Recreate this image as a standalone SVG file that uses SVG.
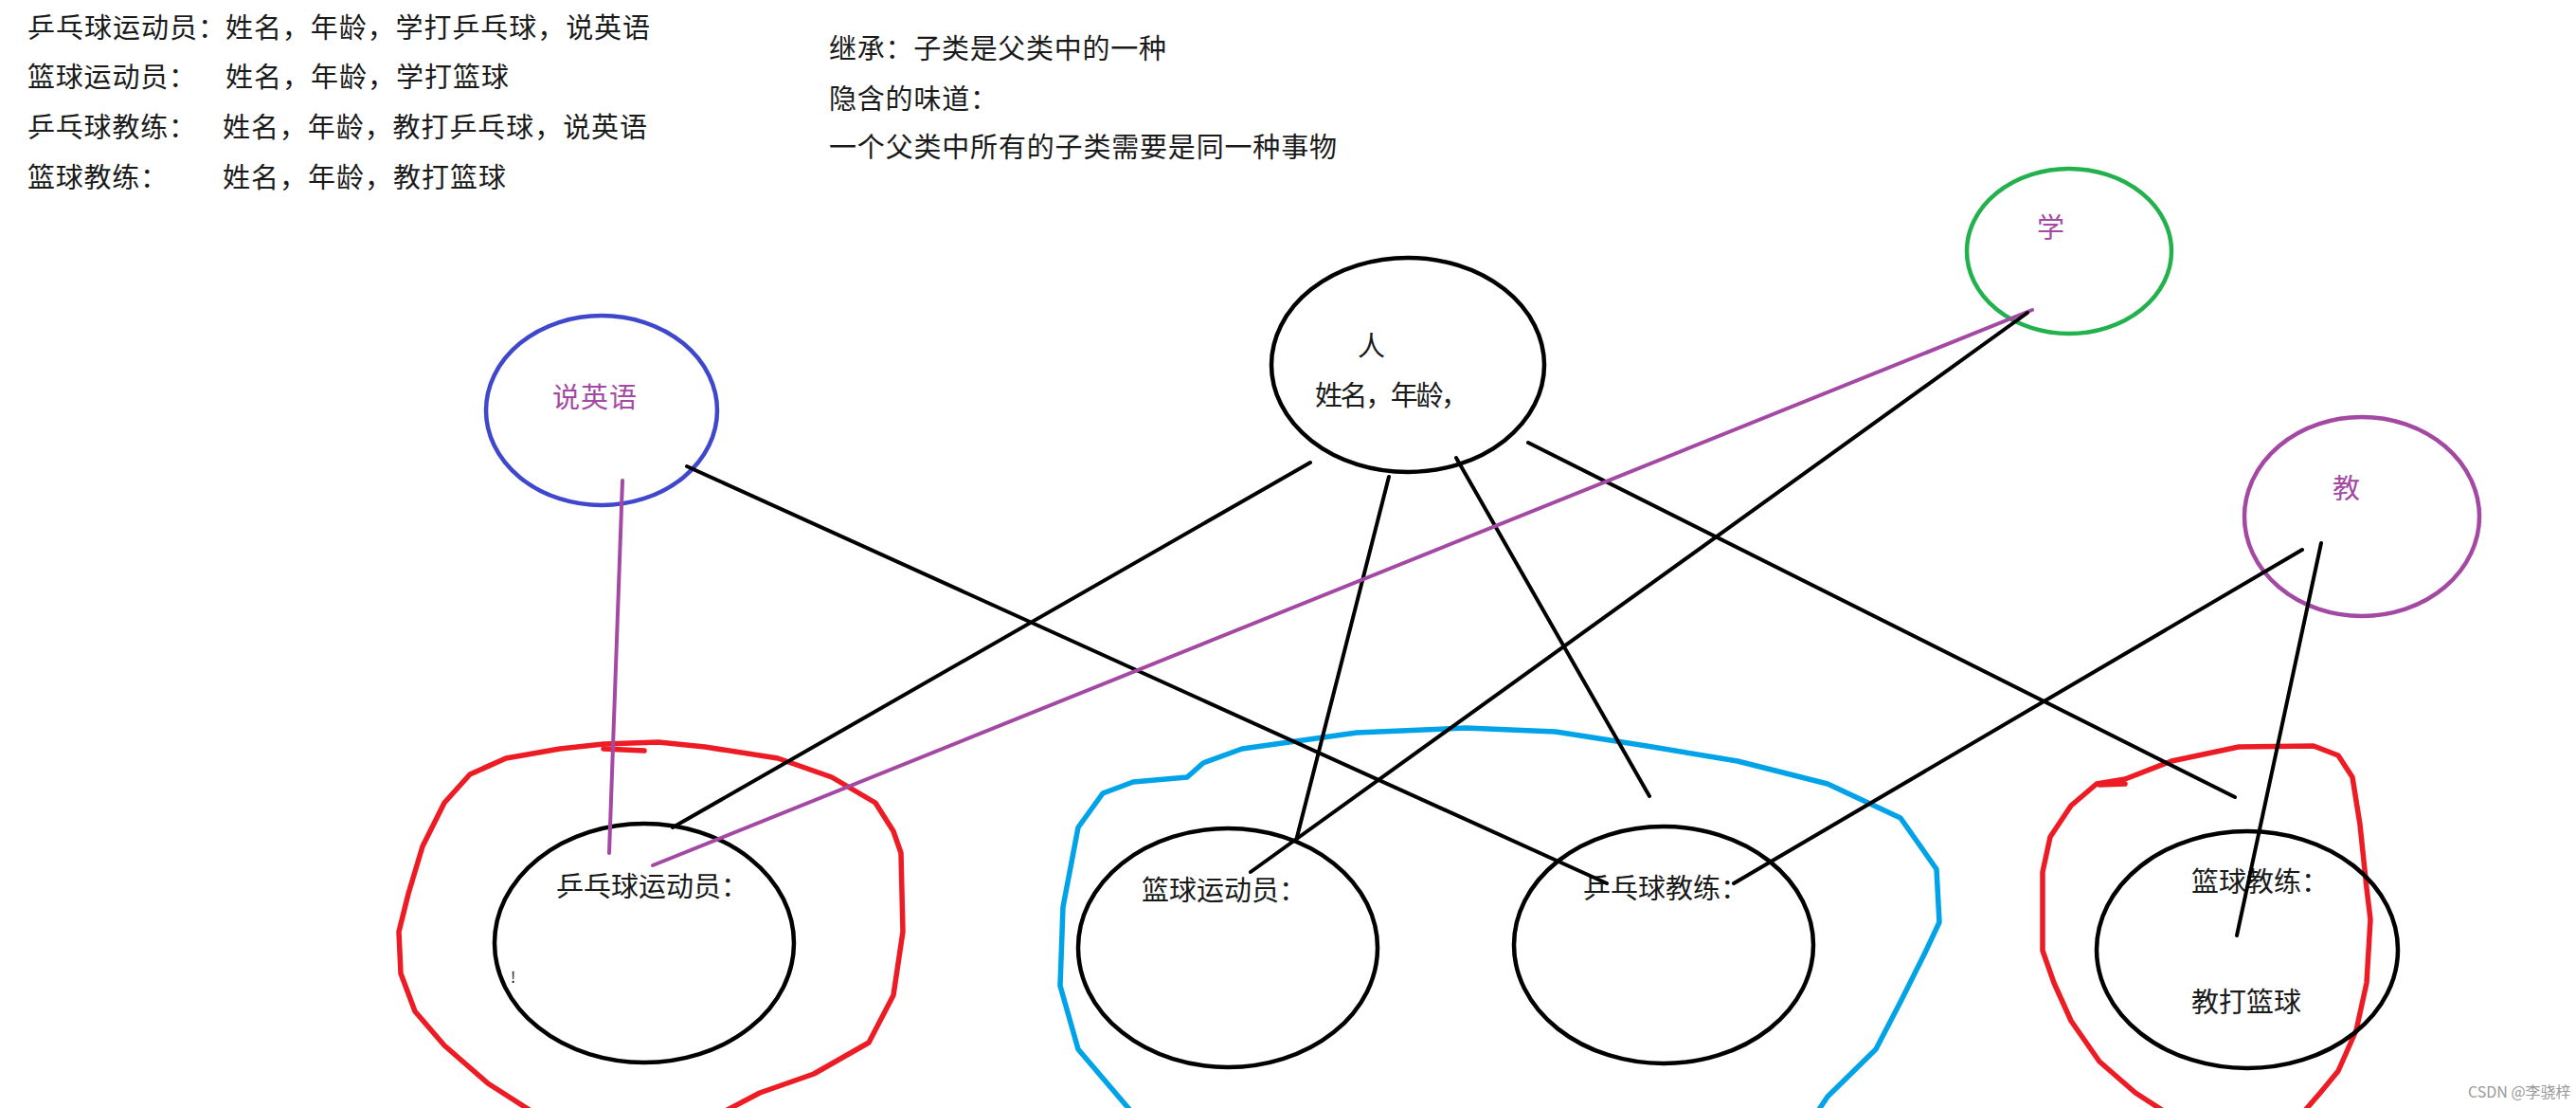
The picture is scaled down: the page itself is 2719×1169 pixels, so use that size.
<svg xmlns="http://www.w3.org/2000/svg" width="2719" height="1169" viewBox="0 0 2719 1169">
<style>
text{font-family:"Noto Sans CJK SC","Liberation Sans",sans-serif;fill:#1a1a1a}
.t{font-size:29px}
.n{font-size:29px}
.p{fill:#a349a4;font-size:29px}
.node{fill:none;stroke:#000;stroke-width:4.5}
.blue{stroke:#3f48cc}
.green{stroke:#22b14c}
.purple{stroke:#a349a4}
.ln{stroke:#000;stroke-width:4;stroke-linecap:round}
.pl{stroke:#a349a4;stroke-width:4;stroke-linecap:round}
.blob{fill:none;stroke-width:5.5;stroke-linejoin:round;stroke-linecap:round}
.red{stroke:#ed1c24}
.cyan{stroke:#00a2e8}
</style>
<rect width="2719" height="1169" fill="#fff"/>
<g id="notes">
<text class="t" x="29" y="40" textLength="209" lengthAdjust="spacing">乒乓球运动员：</text>
<text class="t" x="238" y="40" textLength="448" lengthAdjust="spacing">姓名，年龄，学打乒乓球，说英语</text>
<text class="t" x="29" y="92" textLength="178" lengthAdjust="spacing">篮球运动员：</text>
<text class="t" x="238" y="92" textLength="299" lengthAdjust="spacing">姓名，年龄，学打篮球</text>
<text class="t" x="29" y="145" textLength="178" lengthAdjust="spacing">乒乓球教练：</text>
<text class="t" x="235" y="145" textLength="448" lengthAdjust="spacing">姓名，年龄，教打乒乓球，说英语</text>
<text class="t" x="29" y="198" textLength="148" lengthAdjust="spacing">篮球教练：</text>
<text class="t" x="235" y="198" textLength="299" lengthAdjust="spacing">姓名，年龄，教打篮球</text>
<text class="t" x="875" y="62" textLength="356" lengthAdjust="spacing">继承：子类是父类中的一种</text>
<text class="t" x="875" y="115" textLength="178" lengthAdjust="spacing">隐含的味道：</text>
<text class="t" x="875" y="166" textLength="536" lengthAdjust="spacing">一个父类中所有的子类需要是同一种事物</text>
</g>
<g id="annotations">
<path class="blob red" d="M565,1175 L515,1143 L469,1103 L438,1067 L423,1027 L421,983 L431,943 L446,893 L469,847 L496,817 L534,800 L591,790 L637,785 L695,783 L744,788 L821,800 L878,820 L924,847 L943,877 L951,900 L953,983 L943,1050 L917,1100 L859,1133 L802,1153 L760,1175"/>
<path class="blob red" d="M637,790 L680,792"/>
<path class="blob cyan" d="M1196,1175 L1138,1107 L1119,1040 L1122,957 L1138,873 L1164,837 L1196,825 L1253,820 L1270,805 L1311,790 L1432,773 L1547,768 L1642,772 L1738,787 L1834,803 L1929,827 L2006,863 L2044,917 L2047,973 L2031,1007 L2006,1057 L1980,1107 L1929,1157 L1917,1175"/>
<path class="blob red" d="M2288,1175 L2254,1153 L2216,1120 L2186,1077 L2168,1037 L2156,1003 L2156,920 L2164,883 L2186,850 L2213,827 L2243,822 L2292,803 L2363,788 L2442,787 L2468,797 L2483,820 L2491,870 L2498,937 L2502,970 L2498,1037 L2487,1087 L2468,1130 L2449,1153 L2430,1175"/>
<path class="blob red" d="M2216,828 L2243,827"/>
</g>
<g id="person">
<ellipse class="node" cx="1486" cy="385" rx="144" ry="113"/>
<text class="n" x="1433" y="376">人</text>
<text class="n" x="1388" y="428" textLength="162" lengthAdjust="spacing">姓名，年龄，</text>
</g>
<g id="speak-english">
<ellipse class="node blue" cx="635" cy="433" rx="122" ry="100"/>
<text class="p" x="583" y="430" textLength="89" lengthAdjust="spacing">说英语</text>
</g>
<g id="learn">
<ellipse class="node green" cx="2184" cy="265" rx="108" ry="87"/>
<text class="p" x="2150" y="251">学</text>
</g>
<g id="teach">
<ellipse class="node purple" cx="2493" cy="545" rx="124" ry="105"/>
<text class="p" x="2462" y="526">教</text>
</g>
<g id="pingpong-player">
<ellipse class="node" cx="680" cy="995" rx="158" ry="126"/>
<text class="n" x="587" y="946">乒乓球运动员：</text>
<text x="539" y="1037" font-size="16">!</text>
</g>
<g id="basketball-player">
<ellipse class="node" cx="1296" cy="1000" rx="158" ry="126"/>
<text class="n" x="1205" y="950">篮球运动员：</text>
</g>
<g id="pingpong-coach">
<ellipse class="node" cx="1756" cy="997" rx="158" ry="125"/>
<text class="n" x="1671" y="948">乒乓球教练：</text>
</g>
<g id="basketball-coach">
<ellipse class="node" cx="2372" cy="1002" rx="159" ry="125"/>
<text class="n" x="2313" y="941">篮球教练：</text>
<text class="n" x="2313" y="1068">教打篮球</text>
</g>
<g id="connectors">
<line class="pl" x1="657" y1="507" x2="643" y2="900"/>
<line class="ln" x1="725" y1="492" x2="1696" y2="932"/>
<line class="ln" x1="1383" y1="488" x2="710" y2="873"/>
<line class="ln" x1="1466" y1="503" x2="1368" y2="887"/>
<line class="ln" x1="1537" y1="483" x2="1741" y2="840"/>
<line class="ln" x1="1613" y1="467" x2="2359" y2="841"/>
<line class="pl" x1="2145" y1="327" x2="689" y2="913"/>
<line class="ln" x1="2140" y1="330" x2="1320" y2="920"/>
<line class="ln" x1="2430" y1="580" x2="1830" y2="932"/>
<line class="ln" x1="2450" y1="573" x2="2361" y2="987"/>
</g>
<text x="2605" y="1158" font-size="16" style="fill:#999">CSDN @李骁梓</text>
</svg>
